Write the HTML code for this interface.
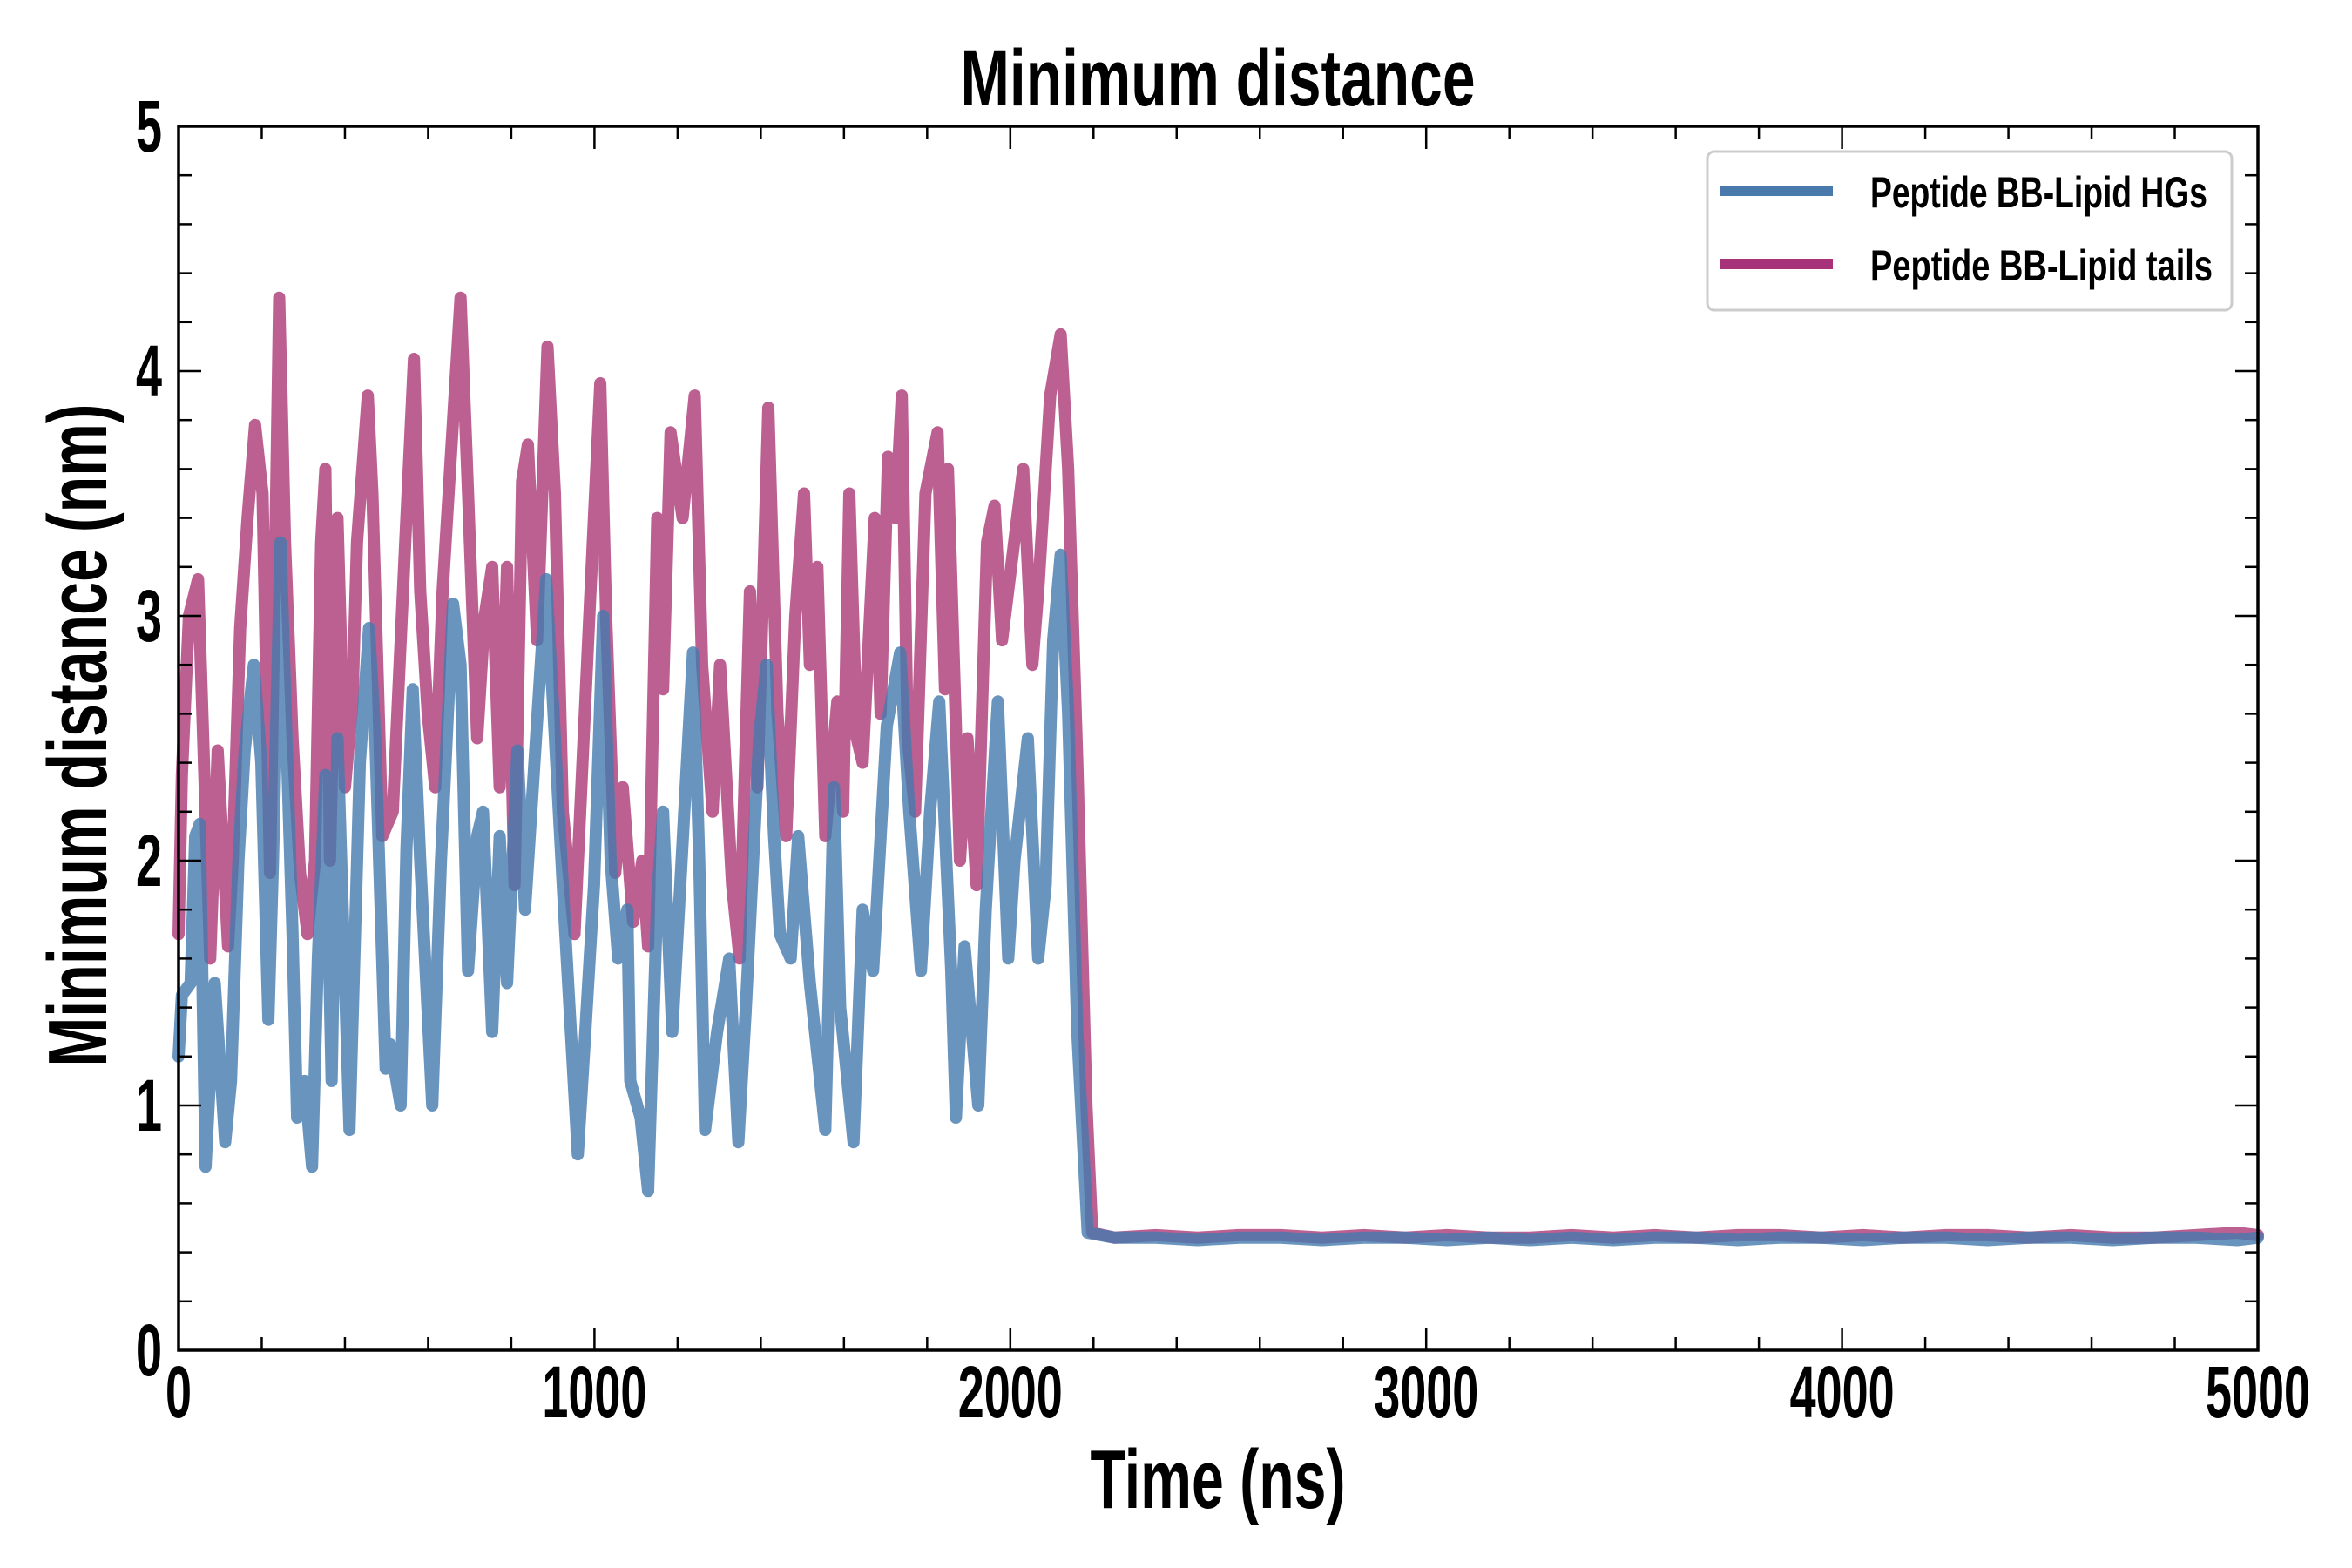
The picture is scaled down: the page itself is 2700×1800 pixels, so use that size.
<!DOCTYPE html>
<html><head><meta charset="utf-8"><style>
html,body{margin:0;padding:0;background:#fff;}
svg{display:block;}
text{font-family:"Liberation Sans Narrow","Liberation Sans",sans-serif;font-weight:bold;fill:#000;}
</style></head><body>
<svg id="chart" width="2700" height="1800" viewBox="0 0 2700 1800" xmlns="http://www.w3.org/2000/svg">
<rect width="2700" height="1800" fill="#fff"/>
<g id="series"></g>
<g id="axes"></g>
<text x="1398" y="121" font-size="92" text-anchor="middle" textLength="591" lengthAdjust="spacingAndGlyphs">Minimum distance</text>
<text x="1398" y="1731" font-size="96" text-anchor="middle" textLength="293" lengthAdjust="spacingAndGlyphs">Time (ns)</text>
<text transform="translate(122,844) rotate(-90)" x="0" y="0" font-size="96" text-anchor="middle" textLength="761" lengthAdjust="spacingAndGlyphs">Minimum distance (nm)</text>
<g>
<rect x="1960" y="174" width="602" height="182" rx="8" fill="#fff" stroke="#ccc" stroke-width="3"/>
<g>
<line x1="1975" y1="219" x2="2104" y2="219" stroke="#4a79ac" stroke-width="12"/>
<text x="2147" y="238" font-size="50" textLength="387" lengthAdjust="spacingAndGlyphs">Peptide BB-Lipid HGs</text>
</g>
<g>
<line x1="1975" y1="303" x2="2104" y2="303" stroke="#a83279" stroke-width="12"/>
<text x="2147" y="322" font-size="50" textLength="393" lengthAdjust="spacingAndGlyphs">Peptide BB-Lipid tails</text>
</g>
</g>
</svg>
<script>
const xTicks=[0,1000,2000,3000,4000,5000];
const yTicks=[0,1,2,3,4,5];
const tailsT=[0,8,25,47,76,94,119,130,148,166,184,202,220,230,242,256,274,292,310,328,343,353,364,382,400,418,429,455,466,490,515,545,566,581,599,617,635,678,696,718,736,754,772,790,808,826,840,862,887,905,924,952,985,1014,1028,1050,1068,1093,1115,1129,1151,1165,1183,1212,1241,1259,1284,1302,1331,1349,1374,1392,1418,1440,1461,1483,1504,1518,1536,1555,1584,1598,1613,1631,1645,1674,1688,1706,1724,1739,1753,1771,1796,1825,1843,1850,1879,1897,1919,1944,1962,1980,2031,2053,2067,2096,2121,2139,2161,2183,2197];
const tailsV=[1.7,2.35,3.0,3.15,1.6,2.45,1.65,2.0,2.95,3.4,3.78,3.5,1.95,3.0,4.3,3.3,2.5,1.95,1.7,2.0,3.3,3.6,2.0,3.4,2.3,2.65,3.3,3.9,3.5,2.1,2.2,3.3,4.05,3.1,2.6,2.3,3.1,4.3,3.5,2.5,3.0,3.2,2.3,3.2,1.9,3.55,3.7,2.9,4.1,3.5,2.2,1.7,2.9,3.95,3.0,1.95,2.3,1.75,2.0,1.65,3.4,2.7,3.75,3.4,3.9,2.8,2.2,2.8,1.9,1.6,3.1,2.3,3.85,2.6,2.1,3.0,3.5,2.8,3.2,2.1,2.65,2.2,3.5,2.5,2.4,3.4,2.6,3.65,3.4,3.9,2.5,2.2,3.5,3.75,2.7,3.6,2.0,2.5,1.9,3.3,3.45,2.9,3.6,2.8,3.1,3.9,4.15,3.6,2.4,1.0,0.48];
const hgsT=[0,8,29,40,51,65,87,112,126,144,159,181,199,216,227,245,263,274,285,303,321,335,353,368,382,411,436,458,473,498,509,534,548,563,581,610,631,660,678,696,718,732,754,772,790,815,833,884,905,930,960,978,999,1021,1039,1057,1079,1086,1111,1129,1151,1165,1187,1237,1252,1266,1295,1324,1346,1364,1396,1414,1432,1446,1472,1490,1518,1555,1576,1591,1623,1645,1670,1703,1735,1757,1785,1807,1829,1858,1869,1890,1923,1941,1970,1995,2010,2042,2067,2085,2103,2121,2139,2161,2186];
const hgsV=[1.2,1.45,1.5,2.1,2.15,0.75,1.5,0.85,1.1,2.0,2.45,2.8,2.4,1.35,2.0,3.3,2.3,1.7,0.95,1.1,0.75,1.6,2.35,1.1,2.5,0.9,2.4,2.95,2.5,1.15,1.25,1.0,2.05,2.7,2.0,1.0,2.0,3.05,2.8,1.55,2.1,2.2,1.3,2.1,1.5,2.45,1.8,3.15,2.5,1.7,0.8,1.3,1.9,3.0,2.0,1.6,1.8,1.1,0.95,0.65,1.85,2.2,1.3,2.85,2.0,0.9,1.3,1.6,0.85,1.4,2.5,2.8,2.1,1.7,1.6,2.1,1.5,0.9,2.3,1.4,0.85,1.8,1.55,2.55,2.85,2.2,1.55,2.2,2.65,1.55,0.95,1.65,1.0,1.8,2.65,1.6,2.0,2.5,1.6,1.9,2.9,3.25,2.6,1.3,0.48];
const flatT=[2250,2350,2450,2550,2650,2750,2850,2950,3050,3150,3250,3350,3450,3550,3650,3750,3850,3950,4050,4150,4250,4350,4450,4550,4650,4750,4850,4950,5000];
const flatTailsV=[0.46,0.47,0.46,0.47,0.47,0.46,0.47,0.46,0.47,0.46,0.46,0.47,0.46,0.47,0.46,0.47,0.47,0.46,0.47,0.46,0.47,0.47,0.46,0.47,0.46,0.46,0.47,0.48,0.47];
const flatHgsV=[0.46,0.46,0.45,0.46,0.46,0.45,0.46,0.46,0.45,0.46,0.45,0.46,0.45,0.46,0.46,0.45,0.46,0.46,0.45,0.46,0.46,0.45,0.46,0.46,0.45,0.46,0.46,0.45,0.46];

const L=205,R=2592,T=145,B=1550;
const xs=t=>L+(t/5000)*(R-L);
const ys=v=>B-(v/5)*(B-T);
const NS="http://www.w3.org/2000/svg";
function mk(tag,attrs,parent){const e=document.createElementNS(NS,tag);for(const k in attrs)e.setAttribute(k,attrs[k]);parent.appendChild(e);return e;}
function pathFrom(T1,V1){let d="";T1.forEach((t,i)=>{d+=(i?"L":"M")+xs(t).toFixed(1)+","+ys(V1[i]).toFixed(1);});return d;}
const sg=document.getElementById("series");
const p1=mk("path",{d:pathFrom(tailsT.concat(flatT),tailsV.concat(flatTailsV)),fill:"none",stroke:"#ab3775","stroke-opacity":"0.8","stroke-width":"14","stroke-linejoin":"round","stroke-linecap":"round"},sg);


const p2=mk("path",{d:pathFrom(hgsT.concat(flatT),hgsV.concat(flatHgsV)),fill:"none",stroke:"#4379ac","stroke-opacity":"0.8","stroke-width":"14","stroke-linejoin":"round","stroke-linecap":"round"},sg);



const ax=document.getElementById("axes");
const fr=mk("rect",{x:L,y:T,width:R-L,height:B-T,fill:"none",stroke:"#000","stroke-width":"3.5"},ax);


for(let t=0;t<=5000;t+=200){
  const x=xs(t),len=(t%1000===0)?26:15;
  mk("line",{x1:x,y1:B,x2:x,y2:B-len,stroke:"#000","stroke-width":"2.5"},ax);
  mk("line",{x1:x,y1:T,x2:x,y2:T+len,stroke:"#000","stroke-width":"2.5"},ax);
}
for(let i=0;i<=25;i++){
  const v=i*0.2,y=ys(v),len=(i%5===0)?26:15;
  mk("line",{x1:L,y1:y,x2:L+len,y2:y,stroke:"#000","stroke-width":"2.5"},ax);
  mk("line",{x1:R,y1:y,x2:R-len,y2:y,stroke:"#000","stroke-width":"2.5"},ax);
}
xTicks.forEach(t=>{
  const s=String(t);
  const e=mk("text",{x:xs(t),y:1627,"font-size":"84","text-anchor":"middle",textLength:String(s.length*30),lengthAdjust:"spacingAndGlyphs"},ax);
  e.textContent=s;
  
  
});
yTicks.forEach(v=>{
  const e=mk("text",{x:186,y:ys(v)+29,"font-size":"84","text-anchor":"end",textLength:"30",lengthAdjust:"spacingAndGlyphs"},ax);
  e.textContent=String(v);
  
  
});
</script>
</body></html>
